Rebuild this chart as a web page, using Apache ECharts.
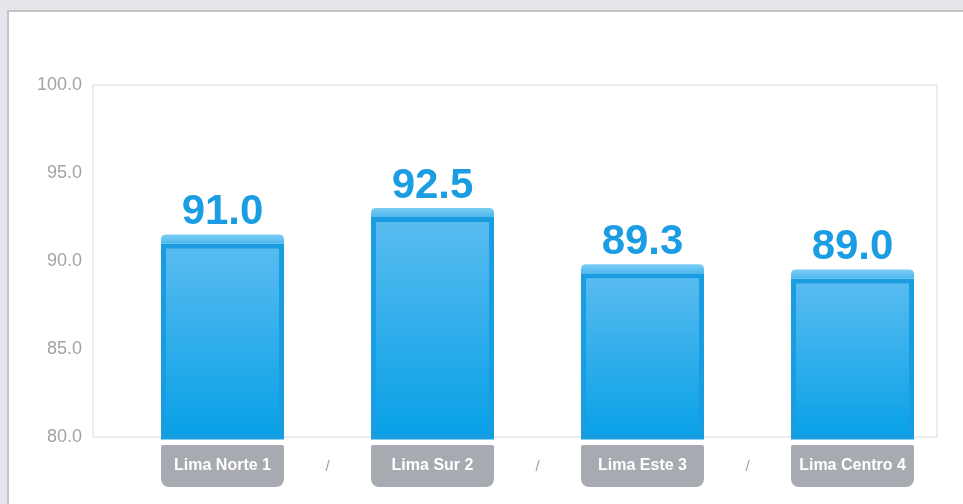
<!DOCTYPE html>
<html>
<head>
<meta charset="utf-8">
<script src="https://cdn.jsdelivr.net/npm/echarts@6/dist/echarts.min.js"></script>
<style>
  html, body { margin: 0; padding: 0; background: #e4e6eb; }
  #chart { width: 963px; height: 504px; }
</style>
</head>
<body>
<div id="chart"></div>
<script>
const categories = ['Lima Norte 1', 'Lima Sur 2', 'Lima Este 3', 'Lima Centro 4'];
const values = [91.0, 92.5, 89.3, 89.0];
const separators = ['', '/', '/', '/', ''];
const yMin = 80;
const yMax = 100;
const yStep = 5;

const FONT = "'Liberation Sans', Arial, sans-serif";
const chart = echarts.init(document.getElementById('chart'), null, { renderer: 'canvas' });

const option = {
  animation: false,
  backgroundColor: 'transparent',
  graphic: [{
    type: 'rect', z: -10, silent: true,
    shape: { x: 8, y: 11, width: 980, height: 520 },
    style: { fill: '#ffffff', stroke: '#c4c4c4', lineWidth: 2 }
  }],
  grid: [
    { left: 117.5, right: 5.5, top: 85, bottom: 67, containLabel: false },
    { left: 93, right: 26, top: 85, bottom: 67, show: true, borderColor: '#dadada', borderWidth: 1, backgroundColor: 'transparent' }
  ],
  xAxis: [
    {
      type: 'category', gridIndex: 0, data: categories,
      axisLine: { show: false }, axisTick: { show: false },
      axisLabel: {
        interval: 0, margin: 8,
        color: '#ffffff', fontFamily: FONT, fontWeight: 'bold', fontSize: 16,
        backgroundColor: '#a8aab1', width: 123, height: 42, lineHeight: 42,
        align: 'center', verticalAlign: 'top',
        borderRadius: [2, 2, 8, 8]
      }
    },
    {
      type: 'category', gridIndex: 0, data: separators, boundaryGap: false, position: 'bottom',
      axisLine: { show: false }, axisTick: { show: false },
      axisLabel: { interval: 0, margin: 22, color: '#a0a0a0', fontFamily: FONT, fontSize: 15 }
    },
    { type: 'value', gridIndex: 1, show: false }
  ],
  yAxis: [
    { type: 'value', gridIndex: 0, min: yMin, max: yMax, interval: yStep, show: false },
    {
      type: 'value', gridIndex: 1, min: yMin, max: yMax, interval: yStep,
      axisLine: { show: false }, axisTick: { show: false }, splitLine: { show: false },
      axisLabel: { margin: 11, color: '#a3a3a3', fontFamily: FONT, fontSize: 18, formatter: v => v.toFixed(1) }
    }
  ],
  series: [
    {
      type: 'bar', xAxisIndex: 0, yAxisIndex: 0, data: values, barWidth: 123, z: 3,
      itemStyle: {
        color: new echarts.graphic.LinearGradient(0, 0, 0, 1, [
          { offset: 0, color: '#5abcf0' },
          { offset: 1, color: '#07a0e6' }
        ]),
        borderColor: '#1a9ce0', borderWidth: 5
      },
      label: {
        show: true, position: 'top', distance: 10,
        color: '#1a9de2', fontFamily: FONT, fontWeight: 'bold', fontSize: 42,
        formatter: p => p.value.toFixed(1)
      }
    },
    {
      type: 'pictorialBar', xAxisIndex: 0, yAxisIndex: 0, data: values, z: 4,
      symbol: 'path://M5,0 H118 Q123,0 123,5 V9 H0 V5 Q0,0 5,0 Z',
      symbolSize: [123, 9], symbolPosition: 'end', symbolOffset: [0, -9],
      itemStyle: {
        color: new echarts.graphic.LinearGradient(0, 0, 0, 1, [
          { offset: 0, color: '#7ccdf5' },
          { offset: 1, color: '#4fb8ee' }
        ])
      }
    }
  ]
};
chart.setOption(option);
</script>
</body>
</html>
